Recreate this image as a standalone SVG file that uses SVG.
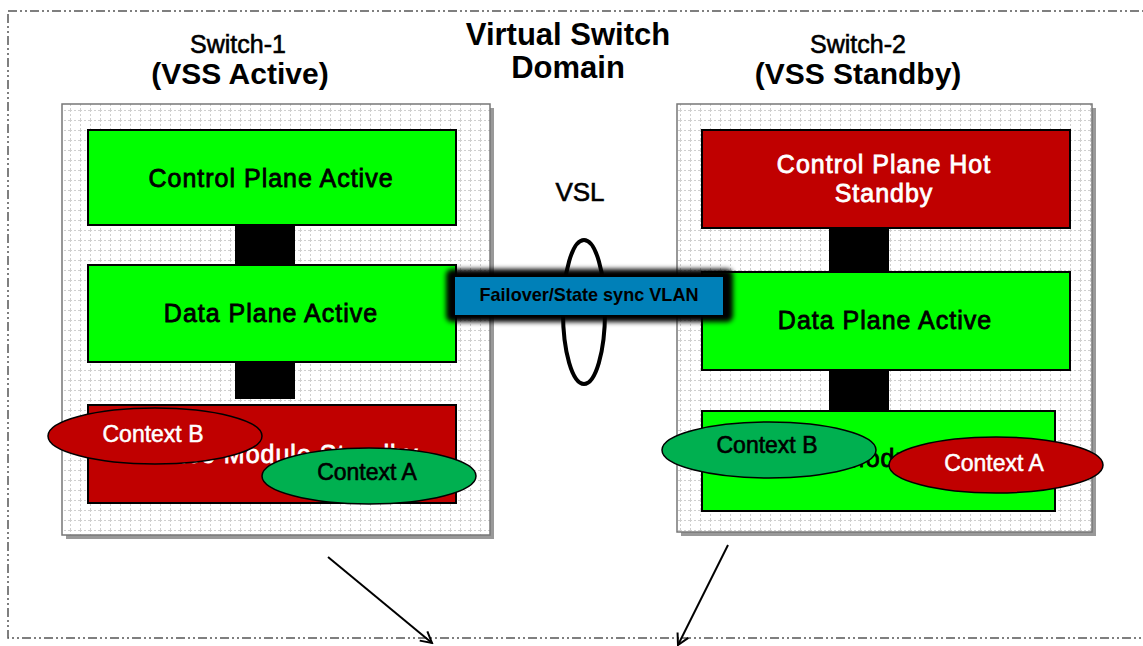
<svg xmlns="http://www.w3.org/2000/svg" width="1143" height="646" viewBox="0 0 1143 646">
<style>
text{font-family:"Liberation Sans",Arial,sans-serif}
.grid{fill:url(#grid);stroke:#777;stroke-width:1.5}
.g{fill:#00ff00;stroke:#000;stroke-width:2}
.r{fill:#c00000;stroke:#000;stroke-width:2}
.lbl{font-size:25px;letter-spacing:1px;text-anchor:middle;stroke:#000;stroke-width:0.8}
.lw{fill:#fff;stroke:#fff}
.med{stroke:#000;stroke-width:0.6}
.ctx{font-size:23px;text-anchor:middle}
.wm{fill:#fff;stroke:#fff;stroke-width:0.5}
.eg{fill:#00b050;stroke:#000;stroke-width:1.5}
.er{fill:#c00000;stroke:#000;stroke-width:1.5}
.bar{fill:#000}
</style>
<defs>
<pattern id="grid" width="10" height="10" patternUnits="userSpaceOnUse">
<rect width="10" height="10" fill="#fff"/>
<path d="M0 0.5H10M0.5 0V10" stroke="#cfcfcf" stroke-width="1" stroke-dasharray="2 2"/>
</pattern>
<marker id="arr" markerWidth="14" markerHeight="14" refX="12" refY="7" orient="auto" markerUnits="userSpaceOnUse">
<path d="M1 1L12 7L1 13" fill="none" stroke="#000" stroke-width="2"/>
</marker>
<filter id="blur" x="-10%" y="-40%" width="120%" height="180%"><feGaussianBlur stdDeviation="2.5"/></filter>
</defs>
<rect width="1143" height="646" fill="#fff"/>
<rect id="domain" x="8" y="11" width="1150" height="627" fill="none" stroke="#555" stroke-width="1.5" stroke-dasharray="9 3 2 3 2 3"/>
<g id="title"><text x="568" y="45" font-size="31" font-weight="bold" text-anchor="middle">Virtual Switch</text><text x="568" y="78" font-size="31" font-weight="bold" text-anchor="middle">Domain</text></g>
<g id="switch1-label"><text class="med" x="238" y="53" font-size="25" text-anchor="middle">Switch-1</text><text x="240" y="84" font-size="30" font-weight="bold" text-anchor="middle">(VSS Active)</text></g>
<g id="switch2-label"><text class="med" x="858" y="53" font-size="25" text-anchor="middle">Switch-2</text><text x="858" y="84" font-size="30" font-weight="bold" text-anchor="middle">(VSS Standby)</text></g>
<g id="switch1">
<rect x="66" y="108" width="428" height="431" fill="#999"/>
<rect class="grid" x="62" y="104" width="428" height="431"/>
</g>
<g id="switch2">
<rect x="681" y="108" width="415" height="428" fill="#999"/>
<rect class="grid" x="677" y="104" width="415" height="428"/>
</g>
<g id="connectors">
<rect class="bar" x="235" y="225" width="60" height="40"/>
<rect class="bar" x="235" y="362" width="60" height="37"/>
<rect class="bar" x="829" y="228" width="60" height="44"/>
<rect class="bar" x="829" y="370" width="60" height="41"/>
<line x1="328" y1="557" x2="432" y2="643" stroke="#000" stroke-width="2" marker-end="url(#arr)"/>
<line x1="728" y1="545" x2="678" y2="645" stroke="#000" stroke-width="2" marker-end="url(#arr)"/>
</g>
<g id="cp1"><rect class="g" x="88" y="130" width="368" height="95"/><text class="lbl" x="271" y="187" font-size="26">Control Plane Active</text></g>
<g id="dp1"><rect class="g" x="88" y="265" width="368" height="97"/><text class="lbl" x="271" y="322">Data Plane Active</text></g>
<g id="sm1"><rect class="r" x="88" y="405" width="368" height="98"/><text class="lbl lw" x="272" y="463">Service Module Standby</text></g>
<g id="ctxB1"><ellipse class="er" cx="155" cy="436" rx="107" ry="28"/><text class="ctx wm" x="153" y="442">Context B</text></g>
<g id="ctxA1"><ellipse class="eg" cx="369" cy="476" rx="107" ry="28"/><text class="ctx med" x="367" y="480">Context A</text></g>
<g id="cp2"><rect class="r" x="702" y="130" width="368" height="98"/><text class="lbl lw" x="884" y="173" font-size="24">Control Plane Hot</text><text class="lbl lw" x="884" y="202" font-size="24">Standby</text></g>
<g id="dp2"><rect class="g" x="702" y="272" width="368" height="98"/><text class="lbl" x="885" y="329">Data Plane Active</text></g>
<g id="sm2"><rect class="g" x="702" y="411" width="353" height="100"/><text class="lbl" x="879" y="467">Service Module Active</text></g>
<g id="ctxB2"><ellipse class="eg" cx="769" cy="450" rx="107" ry="28"/><text class="ctx med" x="767" y="453">Context B</text></g>
<g id="ctxA2"><ellipse class="er" cx="996" cy="465" rx="107" ry="28"/><text class="ctx wm" x="994" y="471">Context A</text></g>
<g id="vsl">
<text class="med" x="580" y="201" font-size="26" text-anchor="middle">VSL</text>
<ellipse cx="584" cy="312" rx="21" ry="72" fill="none" stroke="#000" stroke-width="4"/>
</g>
<g id="vlan">
<rect x="446" y="269" width="287" height="53" rx="6" fill="#000" filter="url(#blur)"/>
<rect x="455" y="277" width="268" height="38" fill="#0080b8"/>
<text x="589" y="301" font-size="19" font-weight="bold" text-anchor="middle" textLength="219" lengthAdjust="spacingAndGlyphs">Failover/State sync VLAN</text>
</g>
</svg>
